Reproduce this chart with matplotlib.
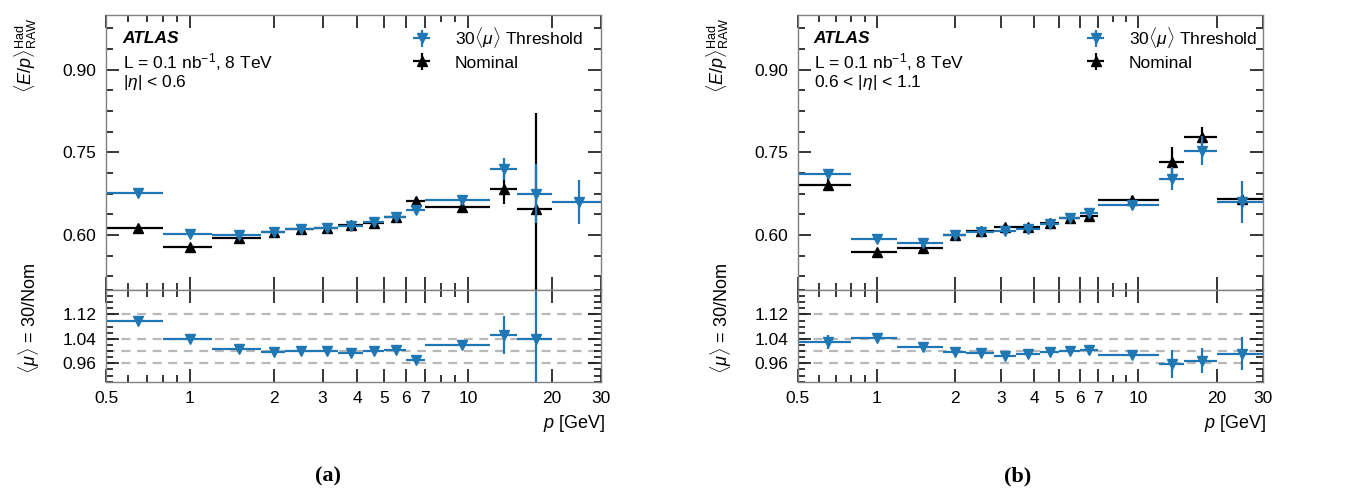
import numpy as np
import matplotlib

matplotlib.use("Agg")
import matplotlib.pyplot as plt  # noqa: E402
from matplotlib.ticker import FixedLocator, FixedFormatter, MultipleLocator, NullFormatter  # noqa: E402

plt.rcParams["font.family"] = ["Liberation Sans", "DejaVu Sans"]
plt.rcParams["mathtext.fontset"] = "custom"
plt.rcParams["mathtext.rm"] = "Liberation Sans"
plt.rcParams["mathtext.it"] = "Liberation Sans:italic"
plt.rcParams["mathtext.bf"] = "Liberation Sans:bold"

# bins in track momentum p [GeV]
bin_edges = [0.5, 0.8, 1.2, 1.8, 2.2, 2.8, 3.4, 4.2, 5.0, 6.0, 7.0, 12, 15, 20, 30]
bin_centers = [0.65, 1.0, 1.5, 2.0, 2.5, 3.1, 3.8, 4.6, 5.5, 6.5, 9.5, 13.5, 17.5, 25]

# (a) |eta| < 0.6
thr_a = [0.676, 0.601, 0.599, 0.606, 0.610, 0.613, 0.616, 0.623, 0.633, 0.6455, 0.664, 0.719, 0.675, 0.659]
thr_a_err = [0.004, 0.003, 0.003, 0.003, 0.003, 0.003, 0.004, 0.004, 0.005, 0.005, 0.006, 0.020, 0.054, 0.040]
nom_a = [0.613, 0.578, 0.594, 0.605, 0.610, 0.613, 0.618, 0.622, 0.633, 0.662, 0.651, 0.683, 0.648, np.nan]
nom_a_err = [0.004, 0.003, 0.003, 0.003, 0.003, 0.003, 0.004, 0.004, 0.005, 0.006, 0.007, 0.027, 0.173, np.nan]
ratio_a = [1.098, 1.040, 1.0065, 0.998, 0.999, 0.999, 0.995, 1.001, 1.003, 0.972, 1.0195, 1.053, 1.039, np.nan]
ratio_a_err = [0.004, 0.003, 0.003, 0.002, 0.002, 0.002, 0.003, 0.003, 0.004, 0.005, 0.006, 0.062, 0.30, np.nan]

# (b) 0.6 < |eta| < 1.1
thr_b = [0.711, 0.593, 0.585, 0.600, 0.605, 0.608, 0.610, 0.620, 0.630, 0.639, 0.655, 0.702, 0.753, 0.660]
thr_b_err = [0.005, 0.003, 0.003, 0.003, 0.003, 0.003, 0.003, 0.004, 0.004, 0.005, 0.006, 0.021, 0.026, 0.038]
nom_b = [0.691, 0.569, 0.576, 0.599, 0.608, 0.615, 0.6145, 0.622, 0.630, 0.6345, 0.664, 0.732, 0.778, 0.665]
nom_b_err = [0.012, 0.004, 0.004, 0.003, 0.004, 0.004, 0.004, 0.004, 0.005, 0.006, 0.007, 0.027, 0.018, 0.005]
ratio_b = [1.030, 1.042, 1.015, 0.998, 0.9935, 0.985, 0.992, 0.997, 1.001, 1.004, 0.987, 0.958, 0.969, 0.992]
ratio_b_err = [0.024, 0.004, 0.004, 0.004, 0.004, 0.005, 0.005, 0.005, 0.006, 0.016, 0.007, 0.047, 0.042, 0.055]

x_major = [0.5, 1, 2, 3, 4, 5, 6, 7, 10, 20, 30]
x_major_labels = ["0.5", "1", "2", "3", "4", "5", "6", "7", "10", "20", "30"]
x_minor = [0.6, 0.7, 0.8, 0.9, 8, 9]
ratio_lines = [0.96, 1.0, 1.04, 1.12]

BLUE = "#1f77b4"
FS = 12.5
W, H = 1356, 493


def style_axis(ax):
    ax.set_xscale("log")
    ax.set_xlim(0.5, 30)
    ax.xaxis.set_major_locator(FixedLocator(x_major))
    ax.xaxis.set_minor_locator(FixedLocator(x_minor))
    ax.xaxis.set_minor_formatter(NullFormatter())
    ax.tick_params(which="both", direction="in", top=True, right=True, labelsize=FS, pad=7)
    ax.tick_params(which="major", length=9.5, width=1.1)
    ax.tick_params(which="minor", length=4.8, width=1.1)
    for s in ax.spines.values():
        s.set_color("0.5")
        s.set_linewidth(1.0)


def draw_panel(left, width, thr, thr_err, nom, nom_err, ratio, ratio_err, region, tag, tag_x, leg_x):
    xlo = np.array(bin_centers) - np.array(bin_edges[:-1])
    xhi = np.array(bin_edges[1:]) - np.array(bin_centers)
    ax = fig.add_axes([left, 1 - 290 / H, width, 275.3 / H])
    rx = fig.add_axes([left, 1 - 381.7 / H, width, 91.7 / H])

    style_axis(ax)
    ax.set_ylim(0.5, 1.0)
    ax.yaxis.set_major_locator(FixedLocator([0.60, 0.75, 0.90]))
    ax.yaxis.set_major_formatter(FixedFormatter(["0.60", "0.75", "0.90"]))
    ax.yaxis.set_minor_locator(MultipleLocator(0.0375))
    ax.xaxis.set_major_formatter(NullFormatter())

    eb = dict(fmt="none", elinewidth=1.6, capsize=0)
    ax.errorbar(bin_centers, nom, yerr=nom_err, xerr=[xlo, xhi], ecolor="black", **eb)
    ax.plot(bin_centers, nom, "^", color="black", ms=6.5, ls="none")
    ax.errorbar(bin_centers, thr, yerr=thr_err, xerr=[xlo, xhi], ecolor=BLUE, **eb)
    ax.plot(bin_centers, thr, "v", color=BLUE, ms=6.5, ls="none")

    ax.text(0.034, 0.915, "ATLAS", transform=ax.transAxes, fontsize=FS, fontweight="bold",
            fontstyle="italic", va="center")
    ax.text(0.034, 0.828, r"L = 0.1 nb$^{-1}$, 8 TeV", transform=ax.transAxes, fontsize=FS, va="center")
    ax.text(0.034, 0.752, region, transform=ax.transAxes, fontsize=FS, va="center")

    h1 = ax.errorbar([], [], yerr=[], xerr=[], fmt="v", color=BLUE, ms=6.5, elinewidth=1.6)
    h2 = ax.errorbar([], [], yerr=[], xerr=[], fmt="^", color="black", ms=6.5, elinewidth=1.6)
    ax.legend([h1, h2], [r"30$\langle\mu\rangle$ Threshold", "Nominal"], loc="upper left",
              bbox_to_anchor=(leg_x, 0.962), frameon=False, fontsize=FS, borderpad=0,
              borderaxespad=0, handlelength=1.04, handletextpad=1.38, labelspacing=0.3)

    style_axis(rx)
    rx.set_ylim(0.9, 1.2)
    rx.yaxis.set_major_locator(FixedLocator([0.96, 1.04, 1.12]))
    rx.yaxis.set_major_formatter(FixedFormatter(["0.96", "1.04", "1.12"]))
    rx.yaxis.set_minor_locator(MultipleLocator(0.02))
    rx.xaxis.set_major_formatter(FixedFormatter(x_major_labels))
    for yv in ratio_lines:
        rx.axhline(yv, color="0.72", ls=(0, (4, 3)), lw=1.6, zorder=1)
    rx.errorbar(bin_centers, ratio, yerr=ratio_err, xerr=[xlo, xhi], ecolor=BLUE, **eb)
    rx.plot(bin_centers, ratio, "v", color=BLUE, ms=6.5, ls="none")

    right_px = (left + width) * W
    fig.text((right_px + 4) / W, 1 - 424 / H, r"$p$ [GeV]", ha="right", va="center", fontsize=FS + 0.5)
    lab_x = left * W - 80
    fig.text(lab_x / W, 1 - 55 / H, r"$\langle E/p\rangle^{\mathrm{Had}}_{\mathrm{RAW}}$",
             rotation=90, ha="center", va="center", fontsize=FS + 0.5)
    fig.text((lab_x + 3) / W, 1 - 318 / H, r"$\langle\mu\rangle$ = 30/Nom",
             rotation=90, ha="center", va="center", fontsize=FS + 0.5)
    fig.text(tag_x / W, 1 - 476 / H, tag, ha="center", va="center",
             fontsize=16, fontweight="bold", family="Liberation Serif")


fig = plt.figure(figsize=(W / 100, H / 100), dpi=100)
draw_panel(106 / W, 495 / W, thr_a, thr_a_err, nom_a, nom_a_err, ratio_a, ratio_a_err,
           r"$|\eta|$ < 0.6", "(a)", 328, 0.6196)
draw_panel(798 / W, 464.7 / W, thr_b, thr_b_err, nom_b, nom_b_err, ratio_b, ratio_b_err,
           r"0.6 < $|\eta|$ < 1.1", "(b)", 1018, 0.621)
fig.savefig("out.png", dpi=100)
